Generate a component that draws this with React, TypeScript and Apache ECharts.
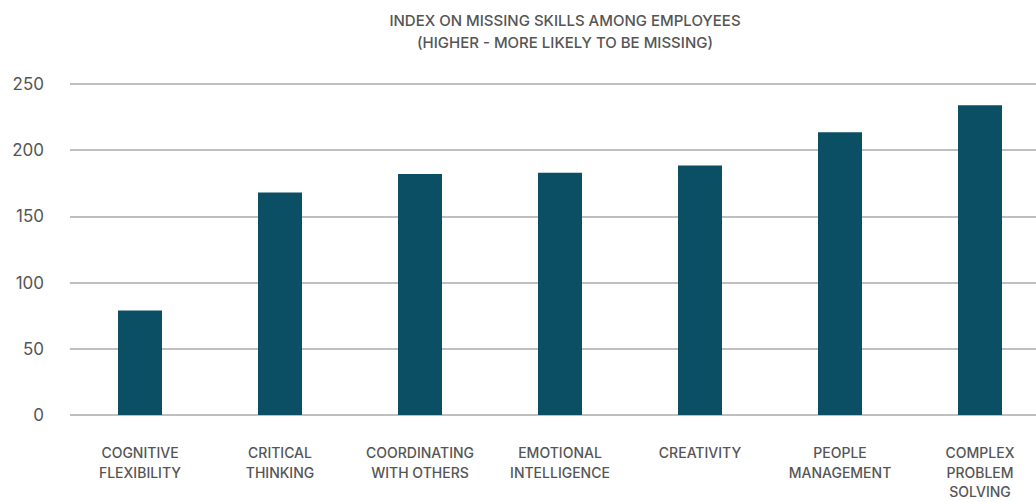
import React, { useEffect, useRef } from "react";
import * as echarts from "echarts";

const categories = [
  "COGNITIVE\nFLEXIBILITY",
  "CRITICAL\nTHINKING",
  "COORDINATING\nWITH OTHERS",
  "EMOTIONAL\nINTELLIGENCE",
  "CREATIVITY",
  "PEOPLE\nMANAGEMENT",
  "COMPLEX\nPROBLEM\nSOLVING",
];
const values = [79, 168, 182, 183, 188.5, 213.5, 234];
const titleText = "INDEX ON MISSING SKILLS AMONG EMPLOYEES\n(HIGHER - MORE LIKELY TO BE MISSING)";

export default function App() {
  const ref = useRef<HTMLDivElement>(null);
  useEffect(() => {
    if (!ref.current) return;
    const chart = echarts.init(ref.current, null, { renderer: "svg" });
    const font = "Inter, 'Noto Sans', sans-serif";
    chart.setOption({
      animation: false,
      backgroundColor: "#ffffff",
      title: {
        text: titleText,
        left: 560,
        top: 4,
        textAlign: "center",
        textStyle: {
          fontFamily: font,
          fontSize: 15,
          fontWeight: 500,
          color: "#555555",
          lineHeight: 22,
        },
      },
      grid: { left: 70, right: 0, top: 84, bottom: 87, outerBoundsMode: "none" },
      xAxis: {
        type: "category",
        data: categories,
        axisLine: { show: false },
        axisTick: { show: false },
        axisLabel: {
          interval: 0,
          margin: 28,
          fontFamily: font,
          fontSize: 14,
          fontWeight: 500,
          color: "#555555",
          lineHeight: 19.5,
        },
      },
      yAxis: {
        type: "value",
        min: 0,
        max: 250,
        interval: 50,
        axisLine: { show: false },
        axisTick: { show: false },
        splitLine: { lineStyle: { color: "#aaaaaa", width: 1.5 } },
        axisLabel: {
          margin: 26,
          fontFamily: font,
          fontSize: 17,
          color: "#555555",
        },
      },
      series: [
        {
          type: "bar",
          data: values,
          barWidth: 44,
          itemStyle: { color: "#0a4f63" },
        },
      ],
    });
    return () => chart.dispose();
  }, []);
  return (
    <div style={{ position: "fixed", left: 0, top: 0, width: 1036, height: 502, overflow: "hidden", background: "#fff" }}>
      <div ref={ref} style={{ width: 1050, height: 502 }} />
    </div>
  );
}
